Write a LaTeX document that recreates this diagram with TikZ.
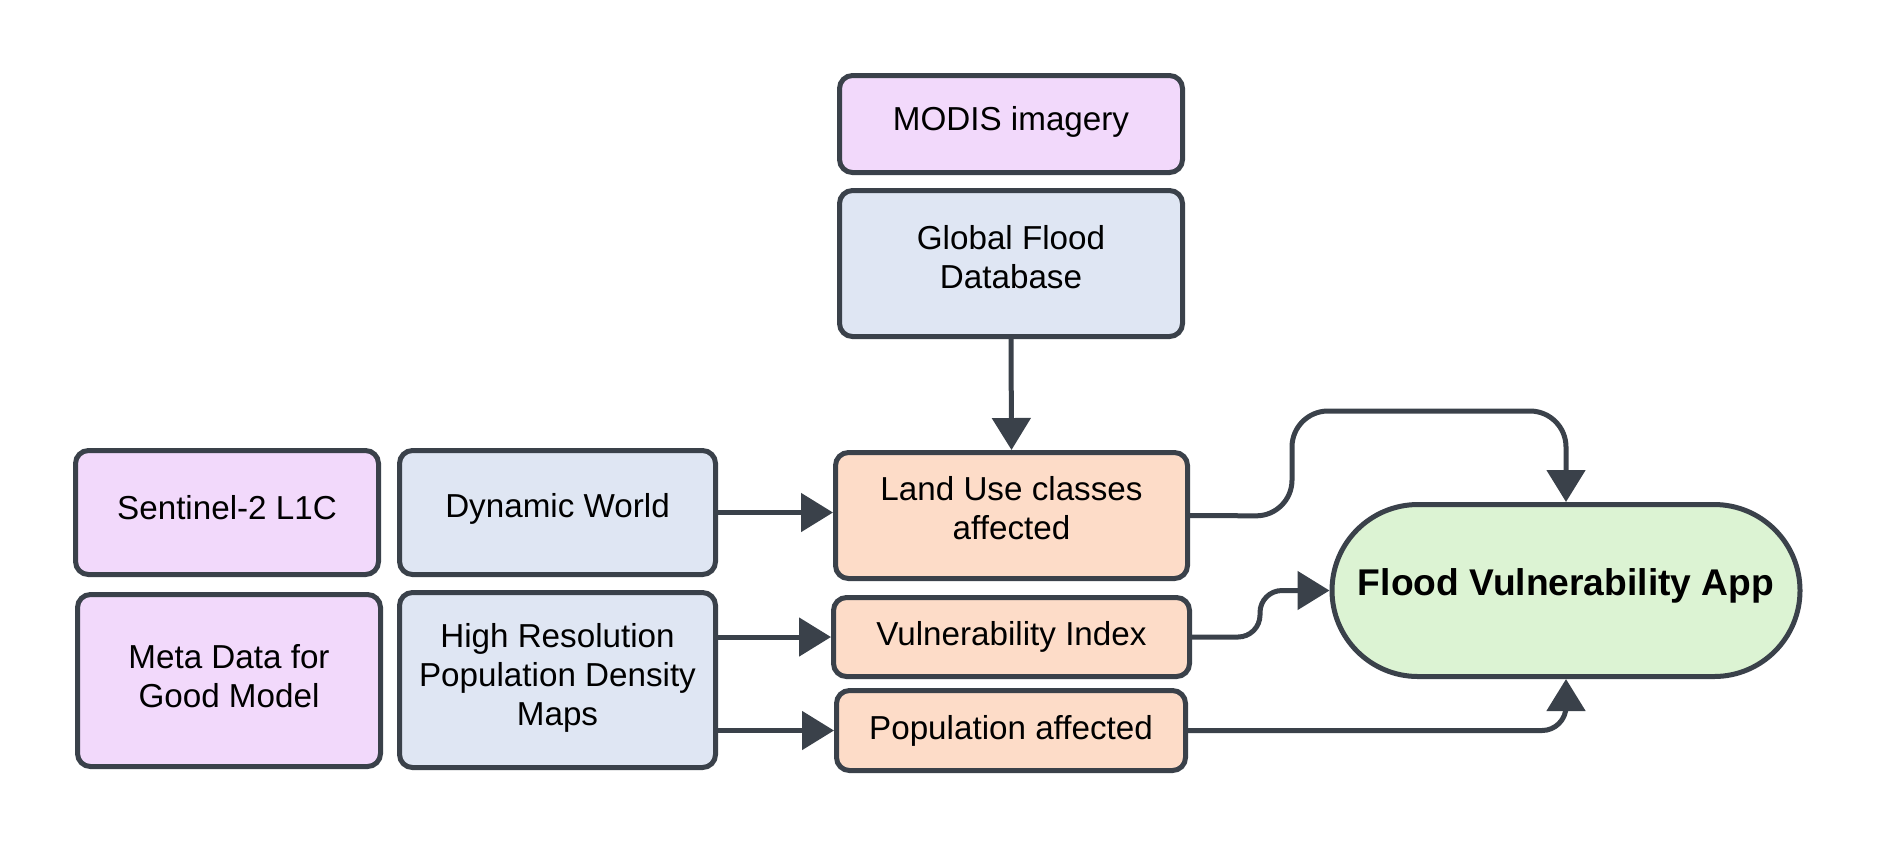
\documentclass[tikz,border=0pt]{standalone}
\usepackage{fontspec}
\setmainfont{Liberation Sans}
\usetikzlibrary{arrows.meta}
\definecolor{edgec}{HTML}{3A414A}
\definecolor{purp}{HTML}{F2D9FB}
\definecolor{bluec}{HTML}{DFE6F3}
\definecolor{orac}{HTML}{FDDCC8}
\definecolor{grnc}{HTML}{DCF3D3}
\begin{document}
\begin{tikzpicture}[x=0.5pt,y=-0.5pt,
  box/.style={draw=edgec, line width=2.5pt, rounded corners=6.5pt, inner sep=0pt},
  pbox/.style={box, fill=purp},
  bbox/.style={box, fill=bluec},
  obox/.style={box, fill=orac},
  lbl/.style={inner sep=0pt, align=center, font=\fontsize{16.6}{19.4}\selectfont},
  conn/.style={draw=edgec, line width=2.5pt, -{Triangle[length=16pt,width=19pt]}},
]
\useasboundingbox (0,0) rectangle (1877,848);
\node[pbox, minimum width=171.5pt, minimum height=48.5pt] (modis) at (1011,124) {};
\node[bbox, minimum width=171.5pt, minimum height=73pt] (gfd) at (1011,263.5) {};
\node[pbox, minimum width=151.5pt, minimum height=62pt] (s2) at (227,512.5) {};
\node[bbox, minimum width=158pt, minimum height=62pt] (dw) at (557.5,512.5) {};
\node[pbox, minimum width=151.5pt, minimum height=86pt] (meta) at (229,680.5) {};
\node[bbox, minimum width=158pt, minimum height=87.5pt] (hr) at (557.5,680) {};
\node[obox, minimum width=176pt, minimum height=63pt] (land) at (1011.5,515.5) {};
\node[obox, minimum width=178pt, minimum height=39.5pt] (vuln) at (1011.5,637) {};
\node[obox, minimum width=174.5pt, minimum height=40pt] (pop) at (1011,730.5) {};
\node[draw=edgec, fill=grnc, line width=2.5pt, rounded corners=43pt, inner sep=0pt,
  minimum width=234pt, minimum height=86pt] (app) at (1566,590.5) {};
\node[lbl] (modist) at ([yshift=1.2pt]modis.center) {MODIS imagery};
\node[lbl] (gfdt) at ([yshift=3pt]gfd.center) {Global Flood\\Database};
\node[lbl] (s2t) at ([yshift=2.5pt]s2.center) {Sentinel-2 L1C};
\node[lbl] (dwt) at ([yshift=1.8pt]dw.center) {Dynamic World};
\node[lbl] (metat) at ([yshift=2pt]meta.center) {Meta Data for\\Good Model};
\node[lbl] (hrt) at ([yshift=1.2pt]hr.center) {High Resolution\\Population Density\\Maps};
\node[lbl] (landt) at ([yshift=3.5pt]land.center) {Land Use classes\\affected};
\node[lbl] (vulnt) at (vuln.center) {Vulnerability Index};
\node[lbl] (popt) at (pop.center) {Population affected};
\node[inner sep=0pt, font=\fontsize{18.6}{22}\selectfont\bfseries] (appt) at ([yshift=2.4pt]app.center) {Flood Vulnerability App};
\draw[conn] (gfd.south) -- (land.north);
\draw[conn] (dw.east) -- (dw.east -| land.west);
\draw[conn] (hr.east |- vuln.west) -- (vuln.west);
\draw[conn] (hr.east |- pop.west) -- (pop.west);
\draw[conn, rounded corners=18pt] (land.east) -- (1292,516) -- (1292,411) -- (1566,411) -- (app.north);
\draw[conn, rounded corners=11pt] (vuln.east) -- (1260,637) -- (1260,590.5) -- (app.west);
\draw[conn, rounded corners=12pt] (pop.east) -- (1566,730.5) -- (app.south);
\end{tikzpicture}
\end{document}
